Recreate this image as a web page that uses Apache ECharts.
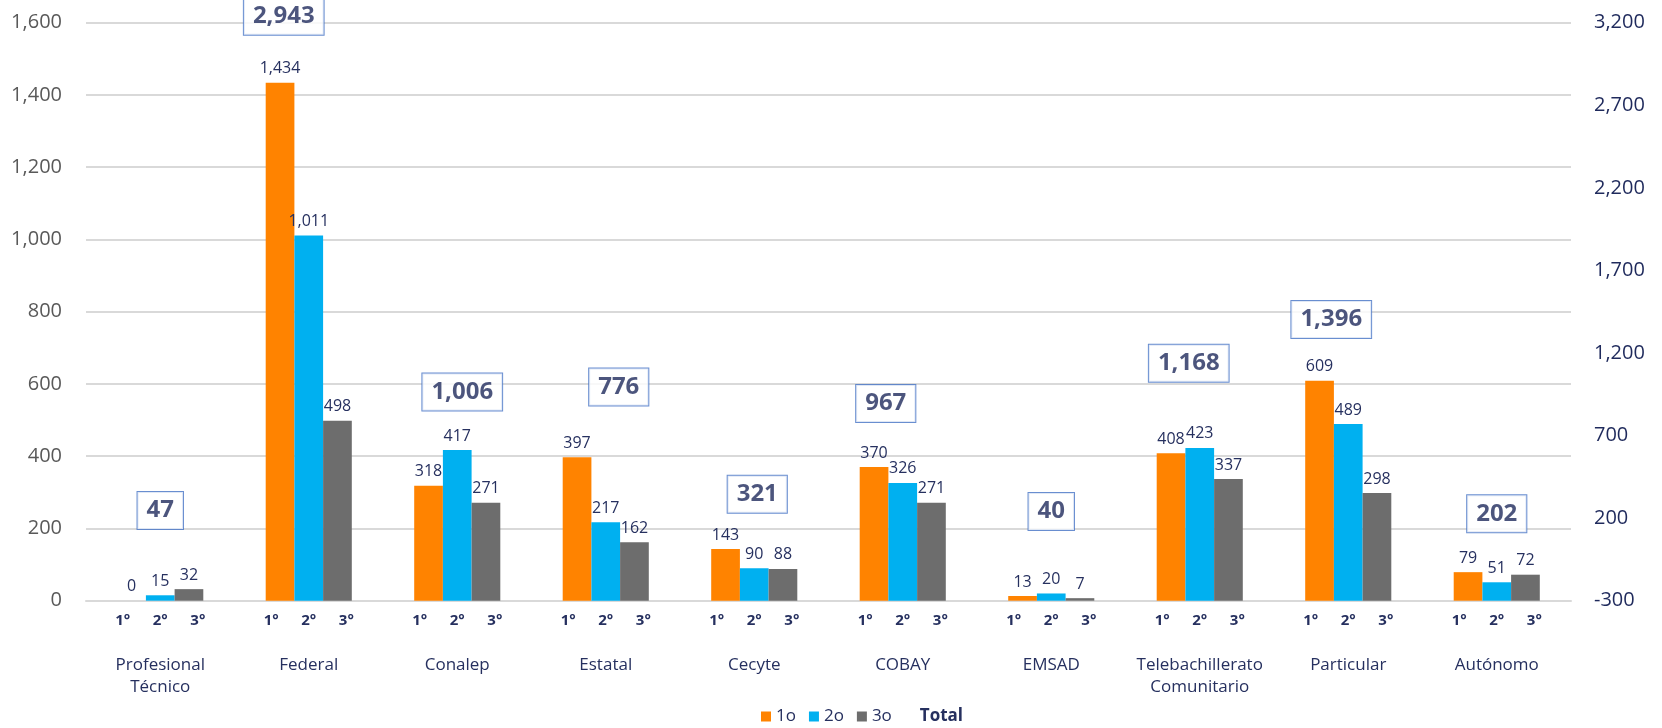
<!DOCTYPE html>
<html>
<head>
<meta charset="utf-8">
<script src="https://cdn.jsdelivr.net/npm/echarts@6/dist/echarts.min.js"></script>
<style>
html,body{margin:0;padding:0;background:#fff;}
#c{width:1662px;height:728px;}
</style>
</head>
<body>
<div id="c"></div>
<script>
const categories = ['Profesional\nTécnico', 'Federal', 'Conalep', 'Estatal', 'Cecyte', 'COBAY', 'EMSAD', 'Telebachillerato\nComunitario', 'Particular', 'Autónomo'];
const grado1 = [0, 1434, 318, 397, 143, 370, 13, 408, 609, 79];
const grado2 = [15, 1011, 417, 217, 90, 326, 20, 423, 489, 51];
const grado3 = [32, 498, 271, 162, 88, 271, 7, 337, 298, 72];
const total = [47, 2943, 1006, 776, 321, 967, 40, 1168, 1396, 202];
const subLabels = ['1°', '2°', '3°'];
const seriesNames = ['1o', '2o', '3o', 'Total'];

// label nudges for the total boxes (manually placed in the original)
const totalNudge = [[0,-33],[-25,-49],[5,7],[13,-36],[3,-4],[-17,12],[0,-33],[-11,5],[-17,-1],[0,-4]];

const NAVY = '#26305f';
const fmt = v => Number(v).toLocaleString('en-US');
const FONT = 'Open Sans';

const barLabel = {
  show: true, position: 'top', distance: 6,
  color: NAVY, fontSize: 16, fontFamily: FONT,
  formatter: p => fmt(p.value)
};

const chart = echarts.init(document.getElementById('c'));
chart.setOption({
  animation: false,
  textStyle: { fontFamily: FONT },
  grid: { left: 86, right: 91, top: 22.7, bottom: 127.3 },
  legend: {
    left: 756, top: 703,
    itemWidth: 10, itemHeight: 10, itemGap: 13,
    textStyle: { color: NAVY, fontSize: 17, fontFamily: FONT },
    data: [
      { name: seriesNames[0], icon: 'rect' },
      { name: seriesNames[1], icon: 'rect' },
      { name: seriesNames[2], icon: 'rect' },
      { name: seriesNames[3], icon: 'none', textStyle: { fontWeight: 'bold' } }
    ]
  },
  xAxis: {
    type: 'category',
    data: categories,
    axisTick: { show: false },
    axisLine: { lineStyle: { color: '#d9d9d9', width: 2 } },
    axisLabel: {
      interval: 0, margin: 9, lineHeight: 22,
      formatter: v => subLabels.map(s => '{o|' + s + '}').join('') + '\n\n' +
        v.split('\n').map(l => '{n|' + l + '}').join('\n'),
      rich: {
        o: { width: 37.6, align: 'center', fontSize: 15, fontWeight: 'bold', color: NAVY, lineHeight: 22, fontFamily: FONT },
        n: { fontSize: 17, color: NAVY, lineHeight: 22, fontFamily: FONT }
      }
    }
  },
  yAxis: [
    {
      type: 'value', min: 0, max: 1600, interval: 200,
      axisLine: { show: false }, axisTick: { show: false },
      splitLine: { lineStyle: { color: '#d9d9d9', width: 2 } },
      axisLabel: { color: '#595959', fontSize: 20, margin: 24, formatter: v => fmt(v), fontFamily: FONT }
    },
    {
      type: 'value', min: -300, max: 3200, interval: 500,
      axisLine: { show: false }, axisTick: { show: false },
      splitLine: { show: false },
      axisLabel: { color: '#1f2a5c', fontSize: 20, margin: 23, formatter: v => fmt(v), fontFamily: FONT }
    }
  ],
  series: [
    { name: seriesNames[0], type: 'bar', data: grado1, barWidth: 28.7, barGap: '0%', itemStyle: { color: '#FF8300' }, label: barLabel },
    { name: seriesNames[1], type: 'bar', data: grado2, barWidth: 28.7, barGap: '0%', itemStyle: { color: '#00B0F0' }, label: barLabel },
    { name: seriesNames[2], type: 'bar', data: grado3, barWidth: 28.7, barGap: '0%', itemStyle: { color: '#6D6D6D' }, label: barLabel },
    {
      name: seriesNames[3], type: 'scatter', yAxisIndex: 1,
      symbol: 'circle', symbolSize: 1,
      itemStyle: { color: 'rgba(0,0,0,0)' },
      data: total.map((v, i) => ({ value: v, label: { offset: totalNudge[i] } })),
      label: {
        show: true, position: 'inside',
        formatter: p => fmt(p.value),
        color: '#1f2a5c', fontSize: 24, fontWeight: 'bold', fontFamily: FONT, lineHeight: 27,
        backgroundColor: '#fff', borderColor: '#4472C4', borderWidth: 1,
        padding: [5, 9, 5, 9]
      },
      z: 10
    }
  ]
});
</script>
</body>
</html>
